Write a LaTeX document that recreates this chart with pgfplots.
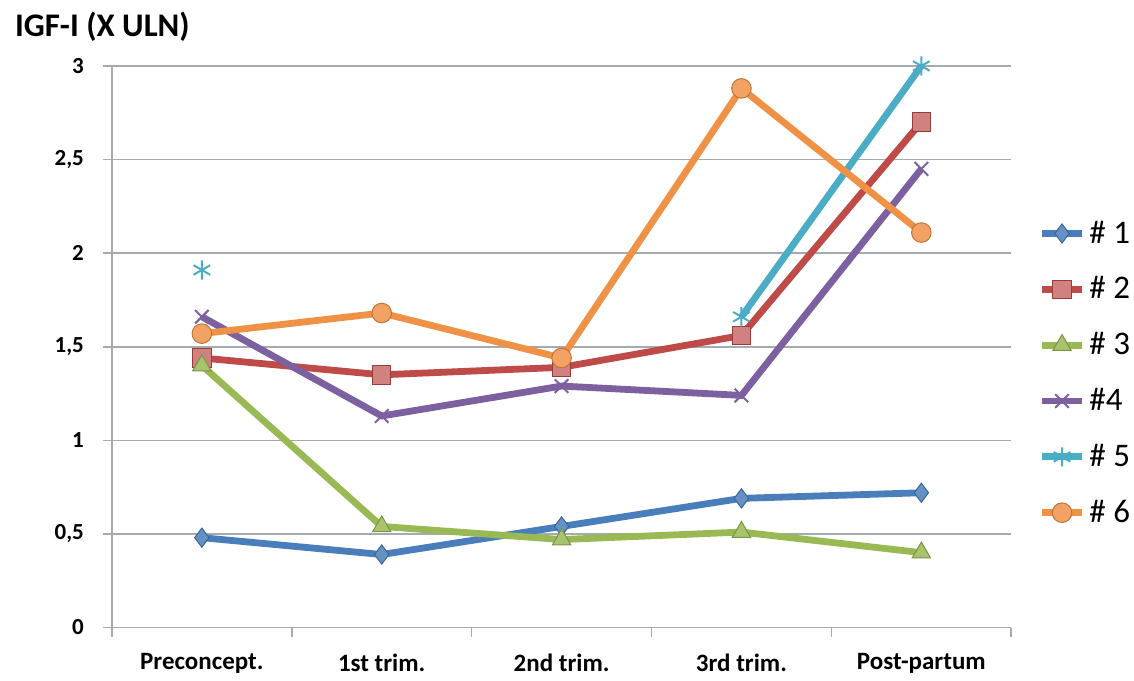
\documentclass[border=0pt]{standalone}
\usepackage{fontspec}
\setmainfont{Carlito}
\usepackage{pgfplots}
\pgfplotsset{compat=1.18}
\definecolor{c1}{RGB}{74,126,187}
\definecolor{c2}{RGB}{190,75,72}
\definecolor{c3}{RGB}{152,185,84}
\definecolor{c4}{RGB}{125,96,160}
\definecolor{c5}{RGB}{75,172,198}
\definecolor{c6}{RGB}{240,146,70}
\definecolor{gridc}{RGB}{165,170,175}
\begin{document}
\begin{tikzpicture}
\path (0,0) rectangle (567pt,339pt);
\begin{axis}[
  at={(56pt,25pt)}, anchor=south west,
  scale only axis, width=450pt, height=281pt,
  xmin=-0.5, xmax=4.5, ymin=0, ymax=3,
  axis x line*=bottom, axis y line*=left,
  axis line style={gridc, line width=0.8pt},
  xtick={0,1,2,3,4},
  xticklabels={Preconcept.,1st trim.,2nd trim.,3rd trim.,Post-partum},
  major x tick style={draw=none},
  minor xtick={-0.5,0.5,1.5,2.5,3.5,4.5},
  minor x tick style={gridc, line width=0.8pt},
  minor tick length=4.5pt,
  x tick label style={font=\bfseries\fontsize{12.5}{14}\selectfont, yshift=-5pt},
  ytick={0,0.5,1,1.5,2,2.5,3},
  yticklabels={0,{0,5},1,{1,5},2,{2,5},3},
  y tick label style={font=\bfseries\fontsize{11.5}{13}\selectfont, xshift=-6pt},
  major tick length=4.5pt,
  tick align=outside,
  y tick style={gridc, line width=0.8pt},
  ymajorgrids, grid style={gridc, line width=0.8pt},
  unbounded coords=jump,
  clip=false,
  every axis plot/.append style={line width=3.4pt},
  legend cell align=left,
  legend style={draw=none, fill=none, at={(1.03,0.732)}, anchor=north west,
    font=\fontsize{16.5}{19}\selectfont, row sep=11.3pt, inner sep=0pt},
  legend image code/.code={\draw[#1,mark repeat=2,mark phase=2] plot coordinates {(0pt,0pt) (10pt,0pt) (20pt,0pt)};},
]
\addplot[c1, mark=diamond*, mark size=4.8pt, mark options={line width=0.5pt, fill=c1!85!white, draw=c1!80!black}]
  coordinates {(0,0.48) (1,0.39) (2,0.54) (3,0.69) (4,0.72)};
\addlegendentry{\# 1}
\addplot[c2, mark=square*, mark size=4.6pt, mark options={line width=0.5pt, fill=c2!70!white, draw=c2!80!black}]
  coordinates {(0,1.44) (1,1.35) (2,1.39) (3,1.56) (4,2.70)};
\addlegendentry{\# 2}
\addplot[c3, mark=triangle*, mark size=5.3pt, mark options={line width=0.5pt, fill=c3!85!white, draw=c3!80!black}]
  coordinates {(0,1.40) (1,0.54) (2,0.47) (3,0.51) (4,0.40)};
\addlegendentry{\# 3}
\addplot[c4, mark=x, mark size=4.8pt, mark options={line width=1pt}]
  coordinates {(0,1.66) (1,1.13) (2,1.29) (3,1.24) (4,2.45)};
\addlegendentry{\#4}
\addplot[c5, mark=asterisk, mark size=4.8pt, mark options={line width=1pt}]
  coordinates {(0,1.91) (1,nan) (2,nan) (3,1.66) (4,3.00)};
\addlegendentry{\# 5}
\addplot[c6, mark=*, mark size=4.9pt, mark options={line width=0.5pt, fill=c6!85!white, draw=c6!80!black}]
  coordinates {(0,1.57) (1,1.68) (2,1.44) (3,2.88) (4,2.11)};
\addlegendentry{\# 6}
\node[anchor=west, font=\bfseries\fontsize{16.5}{19}\selectfont] at (axis description cs:-0.1156,1.069) {IGF-I (X ULN)};
\end{axis}
\end{tikzpicture}
\end{document}
